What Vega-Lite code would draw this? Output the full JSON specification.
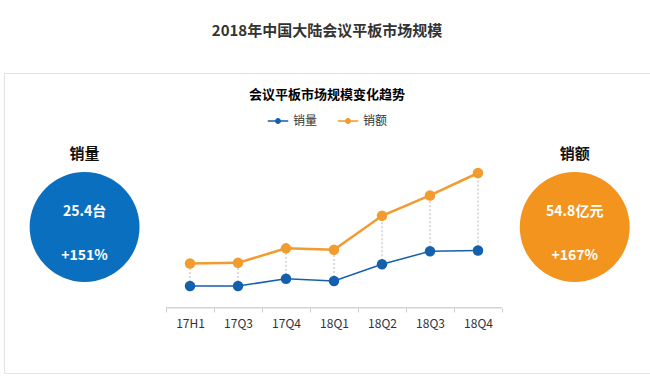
{
  "$schema": "https://vega.github.io/schema/vega-lite/v6.json",
  "autosize": {"type": "fit", "contains": "padding"},
  "width": 650,
  "height": 386,
  "padding": {"left": 4, "right": 0, "top": 24, "bottom": 13},
  "background": "white",
  "title": {
    "text": "2018年中国大陆会议平板市场规模",
    "subtitle": "会议平板市场规模变化趋势",
    "anchor": "middle",
    "font": "Noto Sans CJK SC",
    "fontSize": 15,
    "fontWeight": "bold",
    "color": "#333333",
    "subtitleFont": "Noto Sans CJK SC",
    "subtitleFontSize": 13,
    "subtitleFontWeight": "bold",
    "subtitleColor": "#000000",
    "subtitlePadding": 50,
    "offset": -29
  },
  "config": {
    "font": "Noto Sans CJK SC",
    "view": {"stroke": "#e3e3e3", "strokeWidth": 1},
    "legend": {"layout": {"top": {"anchor": "middle"}}}
  },
  "datasets": {
    "trend": [
      {"季度": "17H1", "销量": 3.0, "销额": 6.1},
      {"季度": "17Q3", "销量": 3.0, "销额": 6.2},
      {"季度": "17Q4", "销量": 4.0, "销额": 8.2},
      {"季度": "18Q1", "销量": 3.7, "销额": 8.0},
      {"季度": "18Q2", "销量": 6.0, "销额": 12.7},
      {"季度": "18Q3", "销量": 7.8, "销额": 15.5},
      {"季度": "18Q4", "销量": 7.9, "销额": 18.6}
    ],
    "kpi": [
      {"指标": "销量", "数值": "25.4台", "增长": "+151%"},
      {"指标": "销额", "数值": "54.8亿元", "增长": "+167%"}
    ]
  },
  "layer": [
    {
      "data": {"name": "trend"},
      "encoding": {
        "x": {
          "field": "季度",
          "type": "ordinal",
          "sort": null,
          "scale": {"type": "band", "paddingInner": 0, "paddingOuter": 0, "range": [162, 498]},
          "axis": {
            "title": null,
            "domain": false,
            "offset": -65,
            "tickBand": "extent",
            "tickSize": 4,
            "tickColor": "#cccccc",
            "labelFontSize": 12,
            "labelColor": "#333333",
            "labelPadding": 6,
            "labelAngle": 0
          }
        }
      },
      "layer": [
        {
          "mark": {"type": "rule", "strokeDash": [2, 2], "color": "#b5b5b5", "strokeWidth": 1},
          "encoding": {
            "y": {"field": "销量", "type": "quantitative", "scale": {"domain": [-9, 32.4], "zero": false, "nice": false}, "axis": null},
            "y2": {"field": "销额"}
          }
        },
        {
          "mark": {"type": "rect", "fill": "transparent", "stroke": "#d0d0d0", "strokeWidth": 1},
          "encoding": {
            "y": {"datum": 0, "type": "quantitative"},
            "y2": {"datum": 0}
          }
        },
        {
          "transform": [{"fold": ["销量", "销额"], "as": ["系列", "数值"]}],
          "encoding": {
            "y": {"field": "数值", "type": "quantitative"},
            "color": {
              "field": "系列",
              "type": "nominal",
              "scale": {"domain": ["销量", "销额"], "range": ["#1560ac", "#f29b2e"]},
              "legend": {
                "title": null,
                "orient": "top",
                "direction": "horizontal",
                "offset": -54,
                "symbolType": "M-1,0H1M0.22,0A0.22,0.22,0,1,1,-0.22,0A0.22,0.22,0,1,1,0.22,0Z",
                "symbolSize": 420,
                "symbolStrokeWidth": 1.5,
                "labelFontSize": 12,
                "labelColor": "#333333",
                "columnPadding": 16,
                "encode": {
                  "symbols": {
                    "update": {
                      "stroke": {"signal": "datum.value === '销量' ? '#1560ac' : '#f29b2e'"},
                      "fill": {"signal": "datum.value === '销量' ? '#1560ac' : '#f29b2e'"}
                    }
                  }
                }
              }
            }
          },
          "layer": [
            {
              "mark": {"type": "line"},
              "encoding": {
                "strokeWidth": {"field": "系列", "type": "nominal", "scale": {"domain": ["销量", "销额"], "range": [1.5, 2.5]}, "legend": null}
              }
            },
            {
              "mark": {"type": "point", "filled": true, "opacity": 1, "size": 110}
            }
          ]
        }
      ]
    },
    {
      "data": {"name": "kpi"},
      "encoding": {
        "x": {
          "field": "指标",
          "type": "nominal",
          "sort": null,
          "scale": {"type": "point", "padding": 0.159, "align": 0.517},
          "axis": null
        }
      },
      "layer": [
        {
          "mark": {"type": "point", "filled": true, "opacity": 1, "size": 12076, "yOffset": 4},
          "encoding": {
            "color": {"field": "指标", "type": "nominal", "sort": null, "scale": {"domain": ["销量", "销额"], "range": ["#0b6fc0", "#f2941e"]}, "legend": null}
          }
        },
        {
          "mark": {"type": "text", "dy": -69, "fontSize": 15, "fontWeight": "bold", "color": "#111111"},
          "encoding": {"text": {"field": "指标"}}
        },
        {
          "mark": {"type": "text", "dy": -11, "fontSize": 14, "fontWeight": "bold", "color": "#ffffff"},
          "encoding": {"text": {"field": "数值"}}
        },
        {
          "mark": {"type": "text", "dy": 33, "fontSize": 14, "fontWeight": "bold", "color": "#ffffff"},
          "encoding": {"text": {"field": "增长"}}
        }
      ]
    }
  ],
  "resolve": {
    "scale": {"x": "independent", "y": "independent", "color": "independent"},
    "axis": {"x": "independent", "y": "independent"},
    "legend": {"color": "independent"}
  }
}
